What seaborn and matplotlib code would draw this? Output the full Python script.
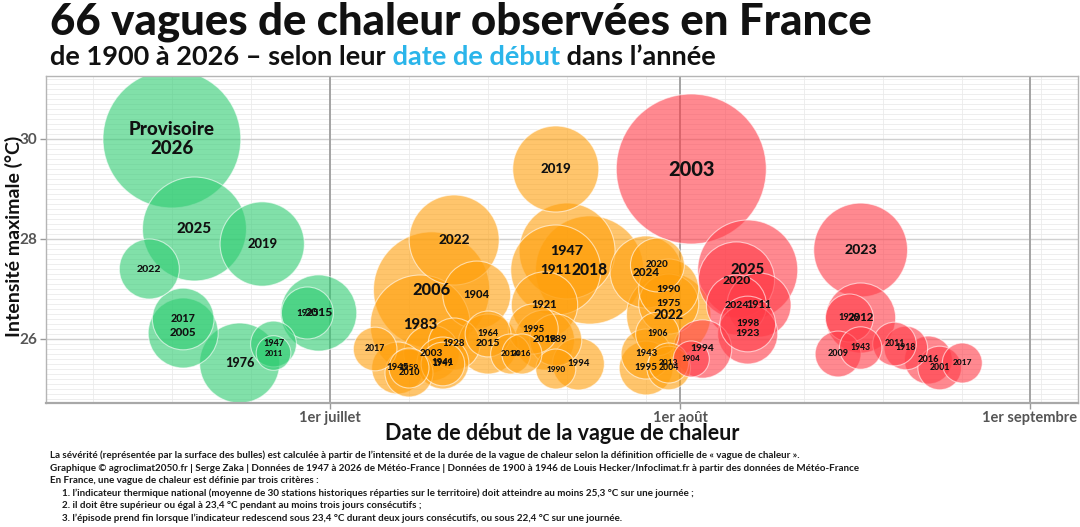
import numpy as np
import pandas as pd
import matplotlib
matplotlib.use("Agg")
import matplotlib.pyplot as plt
from matplotlib.ticker import MultipleLocator
import seaborn as sns

# one entry per heat wave: label, start date (month-day), max intensity (°C), severity
labels = [
    "Provisoire\n2026", "2025", "2019", "2022", "2017", "2005", "1976", "1947", "2011", "2015", "1925",
    "2017", "2022", "2006", "1904", "1983", "1928", "2003", "1941", "1949", "1945", "1959", "2010",
    "1964", "2015", "2014", "2016", "1995", "2018", "1989", "1921", "1990", "1994", "2019", "1947",
    "1911", "2018", "2024", "2020", "1990", "1975", "2022", "1906", "1943", "1995", "2004", "2013",
    "2003", "1994", "1904", "2025", "2020", "2024", "1911", "1998", "1923", "2023", "1929", "2012",
    "2009", "1943", "2011", "1918", "2016", "2001", "2017",
]
start_dates = [
    "06-17", "06-19", "06-25", "06-15", "06-18", "06-18", "06-23", "06-26", "06-26", "06-30", "06-29",
    "07-05", "07-12", "07-10", "07-14", "07-09", "07-12", "07-10", "07-11", "07-11", "07-07", "07-08", "07-08",
    "07-15", "07-15", "07-17", "07-18", "07-19", "07-20", "07-21", "07-20", "07-21", "07-23", "07-21", "07-22",
    "07-21", "07-24", "07-29", "07-30", "07-31", "07-31", "07-31", "07-30", "07-29", "07-29", "07-31", "07-31",
    "08-02", "08-03", "08-02", "08-07", "08-06", "08-06", "08-08", "08-07", "08-07", "08-17", "08-16", "08-17",
    "08-15", "08-17", "08-20", "08-21", "08-23", "08-24", "08-26",
]
intensity = [
    30.0, 28.2, 27.9, 27.4, 26.4, 26.12, 25.52, 25.9, 25.72, 26.52, 26.52,
    25.8, 27.98, 26.98, 26.88, 26.28, 25.9, 25.72, 25.52, 25.5, 25.42, 25.42, 25.32,
    26.1, 25.9, 25.7, 25.7, 26.2, 25.98, 25.98, 26.68, 25.4, 25.5, 29.4, 27.76,
    27.38, 27.38, 27.34, 27.48, 27.0, 26.7, 26.48, 26.1, 25.7, 25.42, 25.42, 25.52,
    29.4, 25.8, 25.6, 27.38, 27.18, 26.68, 26.68, 26.3, 26.1, 27.78, 26.42, 26.42,
    25.7, 25.82, 25.9, 25.82, 25.58, 25.42, 25.52,
]
severity = [
    190, 108, 71, 36, 38, 49, 64, 21, 12, 58, 27,
    19, 81, 135, 46, 100, 27, 31, 27, 19, 27, 16, 23,
    21, 36, 16, 16, 25, 36, 27, 44, 16, 27, 74, 92,
    81, 117, 52, 29, 36, 36, 71, 19, 25, 29, 19, 16,
    225, 34, 13, 100, 58, 36, 41, 31, 36, 88, 23, 49,
    21, 18, 19, 19, 23, 19, 16,
]

month_names = {6: "juin", 7: "juillet", 8: "août"}
month_colors = {"juin": "#2ecc71", "juillet": "#ff9f0a", "août": "#ff3b47"}

tick_days = ["07-01", "08-01", "09-01"]
tick_labels = ["1er juillet", "1er août", "1er septembre"]

df = pd.DataFrame({"label": labels, "date": start_dates,
                   "intensite": intensity, "severite": severity})
d = pd.to_datetime("2001-" + df["date"])
df["jour"] = d.dt.dayofyear
df["mois"] = d.dt.month.map(month_names)
df = df.sort_values("severite", ascending=False)

DPI = 100
PX_PER_ROOT = 5.0  # bubble radius in pixels per sqrt(severity)
sev_max = df["severite"].max()
size_max = (2 * PX_PER_ROOT * np.sqrt(sev_max) * 72 / DPI) ** 2

sns.set_theme(style="white")
plt.rcParams["font.family"] = ["Lato", "DejaVu Sans"]

W, H = 1080, 527
fig = plt.figure(figsize=(W / DPI, H / DPI), dpi=DPI)
ax = fig.add_axes([46 / W, 1 - 403 / H, (1078 - 46) / W, (403 - 76) / H])

sns.scatterplot(data=df, x="jour", y="intensite", hue="mois", palette=month_colors,
                size="severite", sizes=(0, size_max), size_norm=(0, sev_max),
                alpha=0.6, edgecolor="white", linewidth=0.8, legend=False, ax=ax, zorder=2)

for _, row in df.iterrows():
    fs = 3.0 + 0.76 * np.sqrt(row["severite"])
    ax.text(row["jour"], row["intensite"], row["label"], ha="center", va="center",
            fontsize=fs, fontweight="black", color="#111111", linespacing=1.15, zorder=5)

ax.set_xlim(156.85, 248.25)
ax.set_ylim(24.72, 31.26)

tick_pos = pd.to_datetime(["2001-" + t for t in tick_days]).dayofyear
ax.set_xticks(tick_pos, tick_labels)
ax.xaxis.set_minor_locator(MultipleLocator(7))
ax.set_yticks([26, 28, 30])
ax.yaxis.set_minor_locator(MultipleLocator(0.1))
ax.set_xlabel("")
ax.set_ylabel("")

# light weekly / 0.1 °C grid, stronger lines drawn on top of it
ax.set_axisbelow(True)
ax.grid(which="minor", color="#ebebeb", lw=0.6)
for yv in [26, 28, 30]:
    ax.axhline(yv, color="#d0d0d0", lw=1.0, zorder=0.8)
for xv in tick_pos:
    ax.axvline(xv, color="#a3a3a3", lw=1.4, zorder=0.9)

ax.tick_params(which="major", bottom=True, left=True, length=4, width=1, color="#999999",
               labelcolor="#555555", pad=2)
ax.tick_params(which="minor", length=0)
ax.tick_params(axis="x", labelsize=10.5)
ax.tick_params(axis="y", labelsize=11)
for lab in ax.get_xticklabels() + ax.get_yticklabels():
    lab.set_fontweight("bold")
for sp in ax.spines.values():
    sp.set_color("#b5b5b5")
    sp.set_linewidth(1.0)
ax.spines["bottom"].set_linewidth(1.6)
ax.spines["bottom"].set_color("#a8a8a8")

fig.text(14 / W, 1 - 236 / H, "Intensité maximale (°C)", rotation=90, ha="center", va="center",
         fontsize=14, fontweight="bold", color="#111111")
fig.text(562 / W, 1 - 440 / H, "Date de début de la vague de chaleur", ha="center",
         va="baseline", fontsize=15.5, fontweight="bold", color="#111111")

# title and subtitle
fig.text(50 / W, 1 - 35 / H, "66 vagues de chaleur observées en France", ha="left",
         va="baseline", fontsize=31.5, fontweight="black", color="#111111")
t1 = fig.text(50 / W, 1 - 65 / H, "de 1900 à 2026 – selon leur", ha="left", va="baseline",
              fontsize=19.5, fontweight="bold", color="#111111")
t2 = ax.annotate(" date de début", xy=(1, 0), xycoords=t1, ha="left", va="bottom",
                 fontsize=19.5, fontweight="bold", color="#2bb5ea", annotation_clip=False)
ax.annotate(" dans l’année", xy=(1, 0), xycoords=t2, ha="left", va="bottom",
            fontsize=19.5, fontweight="bold", color="#111111", annotation_clip=False)

notes = [
    ("La sévérité (représentée par la surface des bulles) est calculée à partir de l’intensité et de la durée "
     "de la vague de chaleur selon la définition officielle de « vague de chaleur ».", 50),
    ("Graphique © agroclimat2050.fr | Serge Zaka | Données de 1947 à 2026 de Météo-France | Données de 1900 "
     "à 1946 de Louis Hecker/Infoclimat.fr à partir des données de Météo-France", 50),
    ("En France, une vague de chaleur est définie par trois critères :", 50),
    ("1. l’indicateur thermique national (moyenne de 30 stations historiques réparties sur le territoire) "
     "doit atteindre au moins 25,3 °C sur une journée ;", 62),
    ("2. il doit être supérieur ou égal à 23,4 °C pendant au moins trois jours consécutifs ;", 62),
    ("3. l’épisode prend fin lorsque l’indicateur redescend sous 23,4 °C durant deux jours consécutifs, "
     "ou sous 22,4 °C sur une journée.", 62),
]
for i, (txt, x0) in enumerate(notes):
    fig.text(x0 / W, 1 - (458 + 12.6 * i) / H, txt, ha="left", va="baseline",
             fontsize=7.1, fontweight="bold", color="#1a1a1a")

fig.savefig("out.png", dpi=DPI)
